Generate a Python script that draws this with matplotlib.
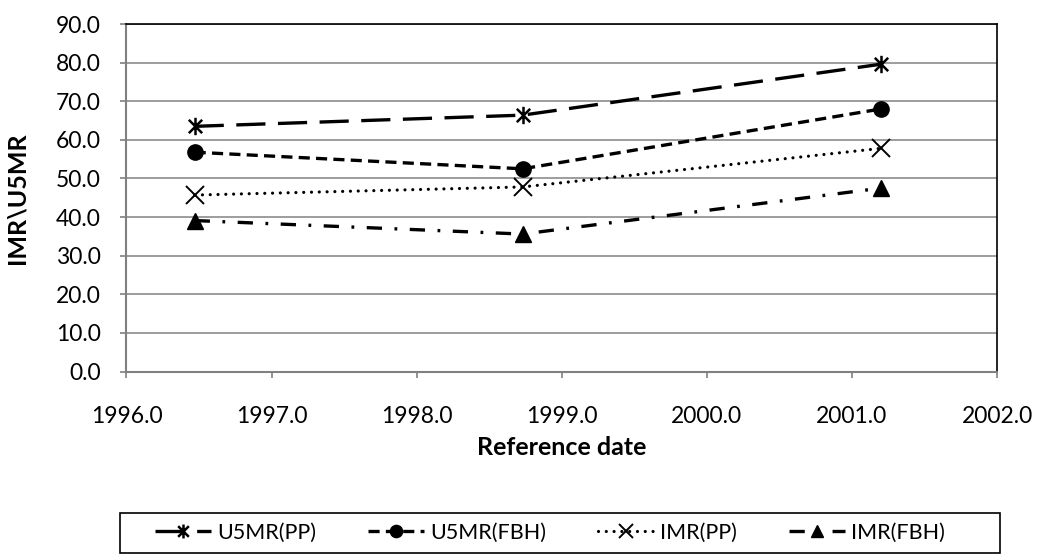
import matplotlib.pyplot as plt
import numpy as np
from matplotlib.path import Path
from matplotlib.patches import Rectangle

plt.rcParams['font.family'] = ['Lato', 'DejaVu Sans']
plt.rcParams['lines.scale_dashes'] = False

# reference dates and mortality estimates (per 1000)
ref_date = [1996.47, 1998.73, 2001.20]
u5mr_pp = [63.5, 66.4, 79.6]
u5mr_fbh = [56.8, 52.5, 68.0]
imr_pp = [45.7, 47.8, 57.8]
imr_fbh = [39.1, 35.6, 47.5]

# asterisk marker: an x with a vertical bar through it
star = Path([(-1, -1), (1, 1), (-1, 1), (1, -1), (0, -1.3), (0, 1.3)],
            [Path.MOVETO, Path.LINETO, Path.MOVETO, Path.LINETO,
             Path.MOVETO, Path.LINETO])

fs = 16.5
fig = plt.figure(figsize=(10.4, 5.56), dpi=100)
ax = fig.add_axes([0.1216, 0.3318, 0.8371, 0.625])

ax.plot(ref_date, u5mr_pp, color='black', lw=2.4, dashes=(21, 9),
        dash_capstyle='butt', marker=star, ms=12.5, mew=1.8,
        label='U5MR(PP)', zorder=3)
ax.plot(ref_date, u5mr_fbh, color='black', lw=2.4, dashes=(8, 4.5),
        dash_capstyle='butt', marker='o', ms=11,
        label='U5MR(FBH)', zorder=3)
ax.plot(ref_date, imr_pp, color='black', lw=2.3, dashes=(0.01, 5.6),
        dash_capstyle='round', marker='x', ms=13, mew=1.4,
        label='IMR(PP)', zorder=3)
ax.plot(ref_date, imr_fbh, color='black', lw=2.4, dashes=(11, 9, 2, 9),
        dash_capstyle='butt', marker='^', ms=11,
        label='IMR(FBH)', zorder=3)

ax.set_xlim(1996, 2002)
ax.set_ylim(0, 90)
ax.set_xticks(np.arange(1996, 2003, 1))
ax.set_yticks(np.arange(0, 91, 10))
ax.set_xticklabels(['%.1f' % v for v in np.arange(1996, 2003, 1)])
ax.set_yticklabels(['%.1f' % v for v in np.arange(0, 91, 10)])
ax.tick_params(axis='both', labelsize=fs, color='#808080', length=4.5,
               width=1.2, direction='out')
ax.tick_params(axis='y', pad=14)
ax.tick_params(axis='x', pad=20)
ax.grid(axis='y', color='#8c8c8c', lw=1.2)
ax.set_axisbelow(True)

for side in ['left', 'bottom']:
    ax.spines[side].set_color('#808080')
    ax.spines[side].set_linewidth(1.5)
for side in ['top', 'right']:
    ax.spines[side].set_color('black')
    ax.spines[side].set_linewidth(1.2)

ax.set_xlabel('Reference date', fontsize=18, fontweight='bold')
ax.set_ylabel('IMR\\U5MR', fontsize=18, fontweight='bold')
ax.xaxis.set_label_coords(0.5, -0.185)
ax.yaxis.set_label_coords(-0.113, 0.5)

# legend box below the plot
fig.patches.append(Rectangle((120 / 1040, 3 / 556), 880 / 1040, 40 / 556,
                             transform=fig.transFigure, fill=False,
                             edgecolor='black', lw=1.2))
fig.legend(loc='center', bbox_to_anchor=(550 / 1040, 1 - 533 / 556),
           ncol=4, fontsize=15.5, frameon=False, handlelength=2.6,
           handletextpad=0.3, columnspacing=2.4, markerscale=0.8)

fig.savefig('out.png', dpi=100)
